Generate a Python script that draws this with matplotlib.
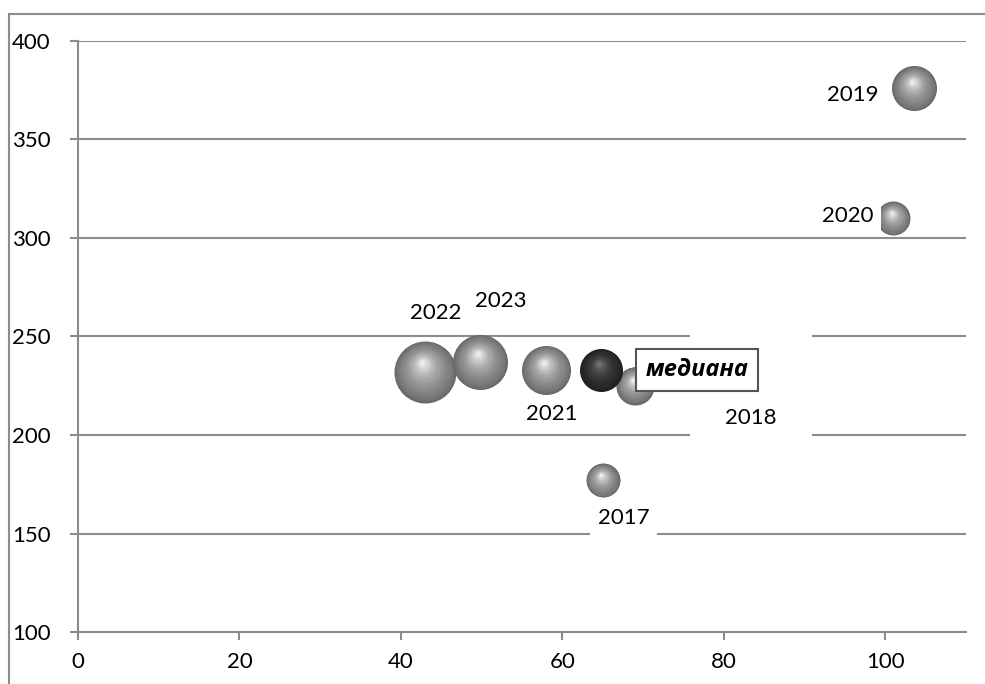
import numpy as np
import matplotlib
matplotlib.use('Agg')
import matplotlib.pyplot as plt
from matplotlib.patches import Rectangle
from matplotlib.transforms import offset_copy, Affine2D, ScaledTranslation

plt.rcParams['font.family'] = ['Lato', 'Open Sans', 'DejaVu Sans']

# данные пузырьков
years = ['2017', '2018', '2019', '2020', '2021', '2022', '2023']
x_vals = [65, 69, 103.6, 101, 58, 43, 49.8]
y_vals = [177, 225, 376, 310, 233, 232, 237]
bubble = [30, 37.6, 52.7, 30, 62.5, 100, 78.7]

# медиана
med_x = 64.8
med_y = 233
med_bubble = 48

# смещения подписей (в пикселях от центра пузырька, вверх = +)
lbl_dx = [21, 116, -62, -46, 6, 11, 21]
lbl_dy = [-38, -32, -7, 2, -44, 59, 61]

x_ticks = [0, 20, 40, 60, 80, 100]
y_ticks = [100, 150, 200, 250, 300, 350, 400]

DPI = 100
PX = 72 / DPI          # пиксели -> пункты
K = (62 * PX) ** 2 / 100   # масштаб площади пузырька

fig = plt.figure(figsize=(9.85, 6.84), dpi=DPI)
ax = fig.add_axes([0.0792, 0.0760, 0.9015, 0.8641])

# рамка вокруг диаграммы
fig.patches.append(Rectangle((9 / 985, -0.2), 1.5, 1.2 - 14 / 684,
                             transform=fig.transFigure, fill=False,
                             ec='#8c8c8c', lw=1.5))

grid_c = '#8c8c8c'
ax.set_xlim(0, 110)
ax.set_ylim(100, 400)
ax.set_xticks(x_ticks)
ax.set_yticks(y_ticks)
for s in ['top', 'right']:
    ax.spines[s].set_visible(False)
for s in ['left', 'bottom']:
    ax.spines[s].set_color(grid_c)
    ax.spines[s].set_linewidth(1.5)
ax.yaxis.grid(True, color=grid_c, lw=1.5)
ax.set_axisbelow(True)
ax.tick_params(axis='both', length=8 * PX, width=1.5, color=grid_c,
               labelsize=16, direction='out')
ax.tick_params(axis='y', pad=58 * PX)
ax.tick_params(axis='x', pad=12 * PX)
for lab in ax.get_yticklabels():
    lab.set_horizontalalignment('left')


def sphere(x, y, size, dark=False):
    d = np.sqrt(size * K)
    n = 40
    for i in range(n):
        t = i / (n - 1)
        frac = 1 - 0.92 * t
        off = t * 0.3 * d / 2
        if dark:
            g = 0.12 + 0.12 * t ** 0.7 + 0.2 * t ** 3
        else:
            g = 0.40 + 0.28 * t ** 0.7 + 0.24 * t ** 3
        tr = offset_copy(ax.transData, fig=fig, x=-off * 0.3, y=off, units='points')
        ax.scatter([x], [y], s=(d * frac) ** 2, color=(g, g, g), lw=0,
                   transform=tr, zorder=3)


for xv, yv, b in zip(x_vals, y_vals, bubble):
    sphere(xv, yv, b)
sphere(med_x, med_y, med_bubble, dark=True)

for i, yr in enumerate(years):
    if yr == '2018':
        # широкая белая подложка подписи 2018 (в пунктах, центр на уровне пузырька)
        tr = Affine2D().scale(1 / 72) + fig.dpi_scale_trans + \
            ScaledTranslation(x_vals[i], y_vals[i], ax.transData)
        ax.add_patch(Rectangle(((lbl_dx[i] - 61) * PX, -52 * PX), 122 * PX, 104 * PX,
                               transform=tr, fc='white', ec='none', zorder=3.9))
        ax.annotate('2018', (x_vals[i], y_vals[i]),
                    xytext=(lbl_dx[i] * PX, lbl_dy[i] * PX), textcoords='offset points',
                    ha='center', va='center', fontsize=16, zorder=4)
    else:
        ax.annotate(yr, (x_vals[i], y_vals[i]),
                    xytext=(lbl_dx[i] * PX, lbl_dy[i] * PX), textcoords='offset points',
                    ha='center', va='center', fontsize=16, zorder=4,
                    bbox=dict(boxstyle='square,pad=0.35', fc='white', ec='none'))

ax.annotate('медиана', (med_x, med_y), xytext=(96 * PX, 0), textcoords='offset points',
            ha='center', va='center', fontsize=17, fontweight='bold', fontstyle='italic',
            family=['Open Sans', 'DejaVu Sans'], zorder=5,
            bbox=dict(boxstyle='square,pad=0.4', fc='white', ec='#555555', lw=1.5))

fig.savefig('out.png', dpi=DPI)
